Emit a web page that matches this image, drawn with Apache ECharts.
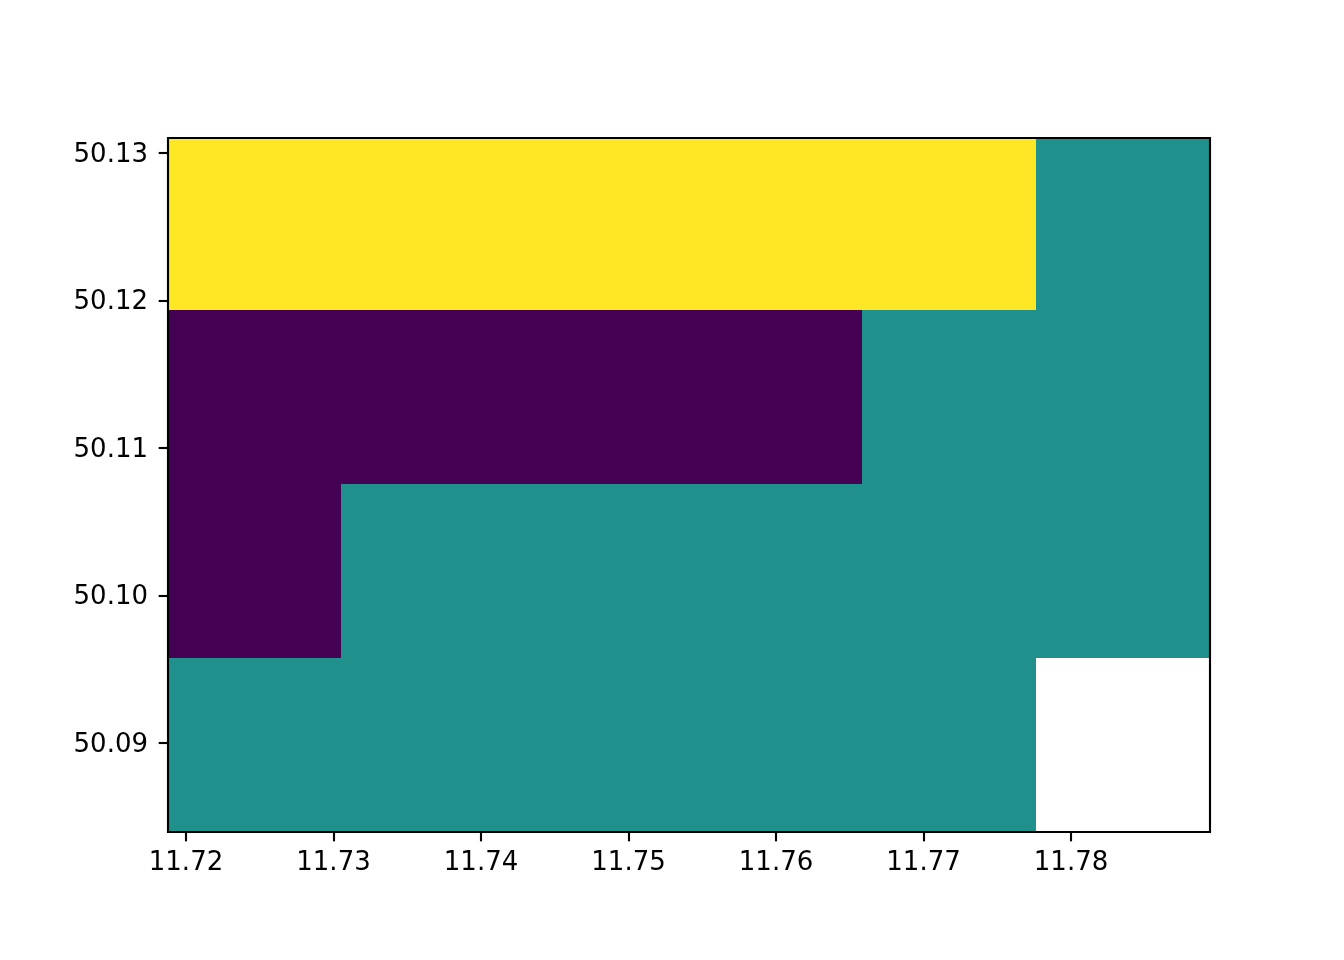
<!DOCTYPE html>
<html>
<head>
<meta charset="utf-8">
<style>html,body{margin:0;padding:0;background:#fff}#c{width:1344px;height:960px}</style>
<script src="https://cdn.jsdelivr.net/npm/echarts@6/dist/echarts.min.js"></script>
</head>
<body>
<div id="c"></div>
<script>
const xEdges = [11.71878, 11.73051, 11.74230, 11.75403, 11.76583, 11.77762, 11.78942];
const yEdges = [50.08397, 50.09577, 50.10756, 50.11936, 50.13102];
// rows listed bottom to top, null = empty cell; 0 low, 1 mid, 2 high
const rowValues = [
  [1, 1, 1, 1, 1, null],
  [0, 1, 1, 1, 1, 1],
  [0, 0, 0, 0, 1, 1],
  [2, 2, 2, 2, 2, 1]
];
const cellColors = ['#440154', '#20908c', '#fde725'];
const xTicks = [11.72, 11.73, 11.74, 11.75, 11.76, 11.77, 11.78];
const yTicks = [50.09, 50.10, 50.11, 50.12, 50.13];

const cells = [];
rowValues.forEach((row, r) => row.forEach((v, c) => {
  if (v !== null) cells.push([xEdges[c], xEdges[c + 1], yEdges[r], yEdges[r + 1], v]);
}));

const font = {fontFamily: 'DejaVu Sans', fontSize: 26, color: '#000'};
function axis(edges, ticks, pos, margin, extra) {
  return {
    type: 'value', position: pos,
    min: edges[0], max: edges[edges.length - 1],
    splitLine: {show: false},
    axisLine: {show: false},
    axisTick: {show: true, length: 9.33, inside: false, customValues: ticks, lineStyle: {color: '#000', width: 2.13}},
    axisLabel: {show: true, margin: margin, customValues: ticks, formatter: v => v.toFixed(2), ...font, ...extra}
  };
}
const chart = echarts.init(document.getElementById('c'), null, {renderer: 'canvas'});
chart.setOption({
  animation: false,
  backgroundColor: '#fff',
  grid: {left: 168, top: 138, width: 1042, height: 694, show: false},
  xAxis: axis(xEdges, xTicks, 'bottom', 18, {}),
  yAxis: axis(yEdges, yTicks, 'left', 20, {verticalAlign: 'top', lineHeight: 4}),
  series: [{
    type: 'custom',
    coordinateSystem: 'cartesian2d',
    clip: true,
    encode: {x: [0, 1], y: [2, 3]},
    data: cells,
    renderItem(params, api) {
      const p0 = api.coord([api.value(0), api.value(3)]);
      const p1 = api.coord([api.value(1), api.value(2)]);
      const x0 = Math.round(p0[0]), y0 = Math.round(p0[1]);
      const x1 = Math.round(p1[0]), y1 = Math.round(p1[1]);
      return {
        type: 'rect',
        shape: {x: x0, y: y0, width: x1 - x0, height: y1 - y0},
        style: {fill: cellColors[api.value(4)], opacity: 1}
      };
    }
  }, {
    // plot frame drawn on the axes' limits
    type: 'custom',
    coordinateSystem: 'cartesian2d',
    clip: false,
    z: 5,
    silent: true,
    data: [[xEdges[0], xEdges[xEdges.length - 1], yEdges[0], yEdges[yEdges.length - 1]]],
    renderItem(params, api) {
      const p0 = api.coord([api.value(0), api.value(3)]);
      const p1 = api.coord([api.value(1), api.value(2)]);
      return {
        type: 'rect',
        shape: {x: p0[0], y: p0[1], width: p1[0] - p0[0], height: p1[1] - p0[1]},
        style: {fill: 'none', stroke: '#000', lineWidth: 2.13, opacity: 1}
      };
    }
  }]
});
</script>
</body>
</html>
